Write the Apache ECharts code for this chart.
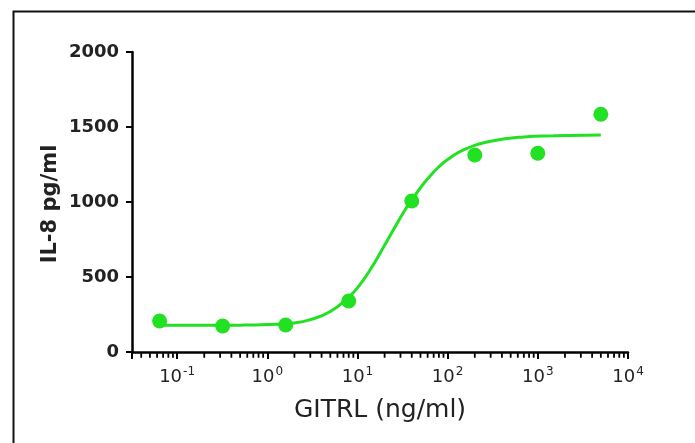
<!DOCTYPE html>
<html><head><meta charset="utf-8">
<script src="https://cdn.jsdelivr.net/npm/echarts@6/dist/echarts.min.js"></script>
<style>html,body{margin:0;padding:0;background:#fff}#main{width:695px;height:443px}</style>
</head><body><div id="main"></div>
<script>
// Measured points: GITRL concentration (ng/ml) vs IL-8 (pg/ml)
const concentrations = [0.064, 0.32, 1.6, 8, 40, 200, 1000, 5000];
const il8Values = [207, 173, 180, 340, 1007, 1313, 1325, 1585];
// Fitted curve
const fitX = [0.064, 0.1, 0.2, 0.5, 1, 2, 3, 5, 8, 10, 14, 20, 24, 33, 40, 50, 60, 80, 100, 150, 300, 700, 1500, 5000];
const fitY = [178, 178, 178, 179, 183, 194, 216, 270, 366, 427, 553, 712, 795, 938, 1013, 1095, 1155, 1235, 1283, 1348, 1405, 1434, 1441, 1447];
// Axis ticks
const yTicks = [0, 500, 1000, 1500, 2000];
const xDecadeExponents = [-1, 0, 1, 2, 3, 4];
const minorMultipliers = [2, 3, 4, 5, 6, 7, 8, 9];
const xMin = Math.pow(10, -1.5), xMax = 1e4;

const minorTicks = [];
for (let e = -2; e <= 3; e++) {
  for (const m of minorMultipliers) {
    const v = m * Math.pow(10, e);
    if (v > xMin && v < xMax) minorTicks.push([v, 0]);
  }
}

const green = '#22e022';
const chart = echarts.init(document.getElementById('main'), null, {renderer: 'canvas'});
chart.setOption({
  backgroundColor: '#fff',
  animation: false,
  grid: {left: 132, right: 67, top: 52, bottom: 91, containLabel: false},
  graphic: [
    {type: 'rect', left: 11, top: 9, shape: {width: 720, height: 460},
     style: {fill: 'none', stroke: '#111', lineWidth: 2}, silent: true},
    {type: 'text', x: 51, y: 204, rotation: Math.PI / 2,
     style: {text: 'IL-8 pg/ml', font: 'bold 21px "DejaVu Sans"', fill: '#222',
             textAlign: 'center', textVerticalAlign: 'middle'}}
  ],
  xAxis: {
    type: 'log', logBase: 10, min: xMin, max: xMax,
    name: 'GITRL (ng/ml)', nameLocation: 'middle', nameGap: 46,
    nameTextStyle: {fontFamily: 'DejaVu Sans', fontSize: 25, color: '#222'},
    axisLine: {show: true, lineStyle: {color: '#000', width: 2.5}},
    axisTick: {show: true, length: 7, lineStyle: {color: '#000', width: 2}},
    splitLine: {show: false},
    minorTick: {show: false},
    axisLabel: {
      margin: 14,
      formatter: function (v) {
        const lg = Math.log10(v);
        const r = Math.round(lg);
        if (Math.abs(lg - r) > 1e-6 || xDecadeExponents.indexOf(r) < 0) return '';
        return '{b|10}{s|' + (r < 0 ? '-' + (-r) : r) + '}';
      },
      rich: {
        b: {fontFamily: 'DejaVu Sans', fontSize: 18, color: '#222'},
        s: {fontFamily: 'DejaVu Sans', fontSize: 12, color: '#222', padding: [0, 0, 10, 1]}
      }
    }
  },
  yAxis: {
    type: 'value', min: yTicks[0], max: yTicks[yTicks.length - 1], interval: yTicks[1] - yTicks[0],
    axisLine: {show: true, lineStyle: {color: '#000', width: 2.5}},
    axisTick: {show: true, length: 6, lineStyle: {color: '#000', width: 2}},
    splitLine: {show: false},
    axisLabel: {margin: 13, fontFamily: 'DejaVu Sans', fontWeight: 'bold', fontSize: 18, color: '#222',
                formatter: function (v) { return String(v); }}
  },
  series: [
    {
      type: 'line', name: 'fit', data: fitX.map((x, i) => [x, fitY[i]]),
      smooth: 0.5, showSymbol: false, symbol: 'none',
      lineStyle: {color: green, width: 3}, z: 3, silent: true
    },
    {
      type: 'scatter', name: 'IL-8', data: concentrations.map((x, i) => [x, il8Values[i]]),
      symbol: 'circle', symbolSize: 15, itemStyle: {color: green, opacity: 1}, z: 4
    },
    {
      type: 'scatter', name: 'minor ticks', data: minorTicks, clip: false,
      symbol: 'rect', symbolSize: [1.8, 4.5], symbolOffset: [0, 3.5],
      itemStyle: {color: '#000', opacity: 1}, z: 1, silent: true
    }
  ]
});
</script></body></html>
